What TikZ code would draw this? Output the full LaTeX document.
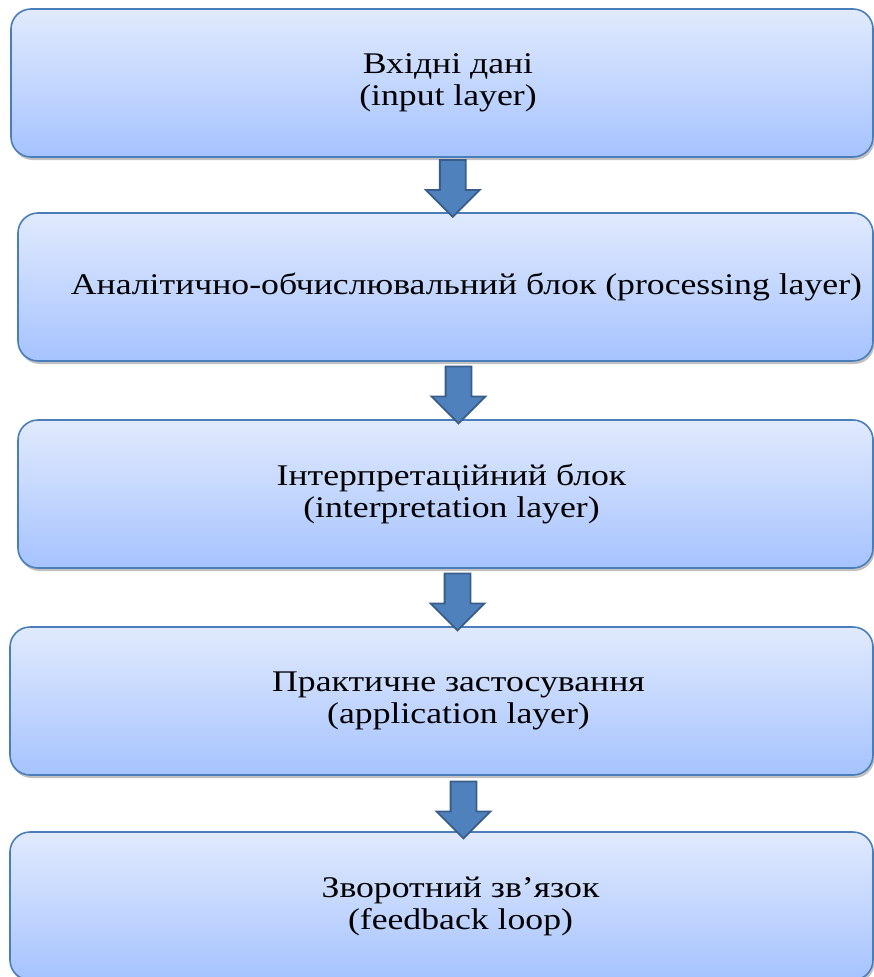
\documentclass[tikz,border=0pt]{standalone}
\usepackage{fontspec}
\setmainfont{Liberation Serif}[FakeStretch=1.19]
\usepackage{tikz}
\usetikzlibrary{shapes.arrows, shadows, positioning, calc}
\definecolor{layertop}{HTML}{E1EAFD}
\definecolor{layerbottom}{HTML}{A6C3FF}
\definecolor{layerline}{HTML}{4A7EBB}
\definecolor{arrowfill}{HTML}{4F81BD}
\definecolor{arrowline}{HTML}{385D8A}

\begin{document}
\begin{tikzpicture}[
    x=1pt, y=1pt,
    layerbox/.style={draw=layerline, line width=1.6pt, rounded corners=20pt, top color=layertop, bottom color=layerbottom,
        minimum height=148pt, outer sep=0pt, align=center, font=\fontsize{30}{32}\selectfont,
        drop shadow={shadow xshift=1.5pt, shadow yshift=-3pt, opacity=0.35, fill=black!70}},
    flowarrow/.style={single arrow, draw=arrowline, fill=arrowfill, line width=1.8pt, rotate=-90,
        minimum height=57pt, inner xsep=0pt, inner ysep=12pt, single arrow head extend=14pt, single arrow tip angle=90},
]
\useasboundingbox (0,0) rectangle (874,-977);

% Layers
\node[layerbox, minimum width=862pt, anchor=north west] (inp) at (11,-9) {\hspace*{12pt}Вхідні дані\\\hspace*{12pt}(input layer)};
\node[layerbox, minimum width=855pt, below=56pt of inp.south east, anchor=north east] (proc) {\hspace*{42pt}Аналітично-обчислювальний блок (processing layer)};
\node[layerbox, minimum width=855pt, below=59pt of proc.south east, anchor=north east] (interp) {\hspace*{12pt}Інтерпретаційний блок\\\hspace*{12pt}(interpretation layer)};
\node[layerbox, minimum width=863pt, below=59pt of interp.south east, anchor=north east] (appl) {\hspace*{34pt}Практичне застосування\\\hspace*{34pt}(application layer)};
\node[layerbox, minimum width=863pt, below=57pt of appl.south east, anchor=north east] (feed) {\hspace*{38pt}Зворотний зв’язок\\\hspace*{38pt}(feedback loop)};

% Arrows
\node[flowarrow] (a1) at ($(inp.south)!0.5!(proc.north)+(9,3)$) {};
\node[flowarrow] (a2) at ($(proc.south)!0.5!(interp.north)+(13,2)$) {};
\node[flowarrow] (a3) at ($(interp.south)!0.5!(appl.north)+(14,2)$) {};
\node[flowarrow] (a4) at ($(appl.south)!0.5!(feed.north)+(22,0)$) {};

\end{tikzpicture}
\end{document}
